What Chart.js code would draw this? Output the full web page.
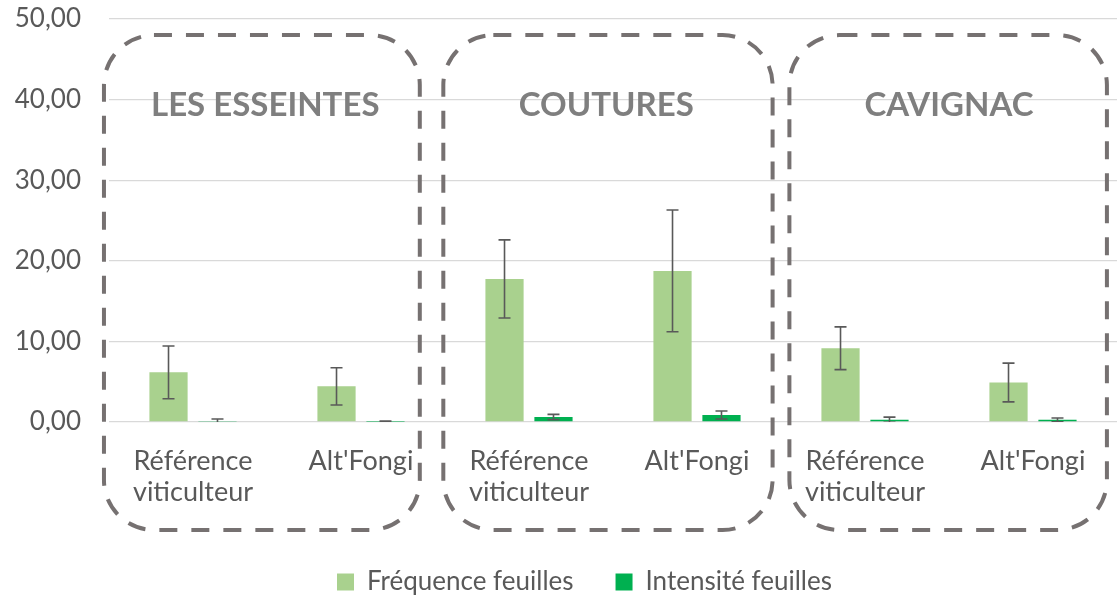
<!DOCTYPE html>
<html>
<head>
<meta charset="utf-8">
<script src="https://cdn.jsdelivr.net/npm/chart.js@4/dist/chart.umd.min.js"></script>
<style>
  html, body { margin: 0; padding: 0; background: #ffffff; }
  #wrap { width: 1118px; height: 596px; }
</style>
</head>
<body>
<div id="wrap"><canvas id="c" width="1118" height="596"></canvas></div>
<script>
// ---- data ----
const categories = [
  ["Référence", "viticulteur"], "Alt'Fongi",
  ["Référence", "viticulteur"], "Alt'Fongi",
  ["Référence", "viticulteur"], "Alt'Fongi"
];
const seriesNames = ["Fréquence feuilles", "Intensité feuilles"];
const frequence    = [6.16, 4.42, 17.75, 18.75, 9.15, 4.90];
const frequenceErr = [3.27, 2.32, 4.85, 7.55, 2.65, 2.40];
const intensite    = [0.05, 0.03, 0.62, 0.87, 0.28, 0.27];
const intensiteErr = [0.32, 0.08, 0.33, 0.50, 0.32, 0.23];
const yTicks = [0, 10, 20, 30, 40, 50];

// group annotations (in axis units: category index / value)
const groupNames    = ["LES ESSEINTES", "COUTURES", "CAVIGNAC"];
const groupLabelX   = [0.43, 2.46, 4.50];
const groupLabelY   = 39.3;
const groupBoxLeft  = [-0.53, 1.49, 3.55];
const groupBoxRight = [1.35, 3.45, 5.44];
const groupBoxTop   = 48.0;
const groupBoxBottom= -13.4;

const FONT = "Lato, 'Open Sans', sans-serif";
const TEXT = "#595959";

const errorBarPlugin = {
  id: 'errorBars',
  afterDatasetsDraw(chart) {
    const ctx = chart.ctx, y = chart.scales.y, a = chart.chartArea;
    const errs = [frequenceErr, intensiteErr];
    ctx.save();
    ctx.beginPath();
    ctx.rect(a.left, a.top - 2, a.right - a.left, a.bottom - a.top + 2);
    ctx.clip();
    ctx.strokeStyle = "#595959";
    ctx.lineWidth = 1.6;
    chart.data.datasets.forEach((ds, di) => {
      const meta = chart.getDatasetMeta(di);
      meta.data.forEach((bar, i) => {
        const v = ds.data[i], e = errs[di][i];
        const yt = y.getPixelForValue(v + e), yb = y.getPixelForValue(v - e);
        const x = bar.x, cap = 6;
        ctx.beginPath();
        ctx.moveTo(x, yt); ctx.lineTo(x, yb);
        ctx.moveTo(x - cap, yt); ctx.lineTo(x + cap, yt);
        ctx.moveTo(x - cap, yb); ctx.lineTo(x + cap, yb);
        ctx.stroke();
      });
    });
    ctx.restore();
  }
};

// shift the legend a little to the right, as in the original chart
const legendShiftPlugin = {
  id: 'legendShift',
  afterLayout(chart) {
    if (chart.legend) { chart.legend.left += 26; chart.legend.right += 26; }
  }
};

function roundRectPath(ctx, x0, y0, x1, y1, r) {
  ctx.beginPath();
  ctx.moveTo(x0 + r, y0);
  ctx.lineTo(x1 - r, y0);
  ctx.arcTo(x1, y0, x1, y0 + r, r);
  ctx.lineTo(x1, y1 - r);
  ctx.arcTo(x1, y1, x1 - r, y1, r);
  ctx.lineTo(x0 + r, y1);
  ctx.arcTo(x0, y1, x0, y1 - r, r);
  ctx.lineTo(x0, y0 + r);
  ctx.arcTo(x0, y0, x0 + r, y0, r);
  ctx.closePath();
}

const groupPlugin = {
  id: 'groups',
  afterDraw(chart) {
    const ctx = chart.ctx, xs = chart.scales.x, ys = chart.scales.y;
    ctx.save();
    ctx.strokeStyle = "#767171";
    ctx.lineWidth = 4;
    ctx.setLineDash([18, 14]);
    for (let g = 0; g < groupNames.length; g++) {
      const x0 = xs.getPixelForValue(groupBoxLeft[g]);
      const x1 = xs.getPixelForValue(groupBoxRight[g]);
      const y0 = ys.getPixelForValue(groupBoxTop);
      const y1 = ys.getPixelForValue(groupBoxBottom);
      roundRectPath(ctx, x0, y0, x1, y1, 50);
      ctx.stroke();
    }
    ctx.setLineDash([]);
    ctx.fillStyle = "#7f7f7f";
    ctx.font = "bold 33px " + FONT;
    ctx.textAlign = "center";
    ctx.textBaseline = "middle";
    for (let g = 0; g < groupNames.length; g++) {
      ctx.fillText(groupNames[g], xs.getPixelForValue(groupLabelX[g]), ys.getPixelForValue(groupLabelY));
    }
    ctx.restore();
  }
};

new Chart(document.getElementById('c'), {
  type: 'bar',
  data: {
    labels: categories,
    datasets: [
      { label: seriesNames[0], data: frequence, backgroundColor: "#A9D18E",
        categoryPercentage: 0.583, barPercentage: 0.78 },
      { label: seriesNames[1], data: intensite, backgroundColor: "#00B050",
        categoryPercentage: 0.583, barPercentage: 0.78 }
    ]
  },
  options: {
    responsive: false,
    animation: false,
    layout: { padding: { top: 19, right: 1, left: 0, bottom: -9 } },
    plugins: {
      legend: {
        position: 'bottom',
        labels: {
          boxWidth: 17, boxHeight: 17, padding: 42,
          color: TEXT, font: { family: FONT, size: 26 }
        }
      },
      tooltip: { enabled: false }
    },
    scales: {
      x: {
        grid: { display: false },
        border: { display: false },
        ticks: { color: TEXT, font: { family: FONT, size: 27, lineHeight: 1.15 }, padding: 16,
                 maxRotation: 0, autoSkip: false },
        afterFit(axis) { axis.height = 105; axis.paddingLeft = 0; axis.paddingRight = 0; }
      },
      y: {
        min: 0, max: 50,
        afterBuildTicks(axis) { axis.ticks = yTicks.map(v => ({ value: v })); },
        grid: { color: "#D9D9D9", lineWidth: 1.3, drawTicks: false },
        border: { display: false },
        ticks: { color: TEXT, font: { family: FONT, size: 26 }, padding: 28,
                 callback: v => v.toFixed(2).replace('.', ',') },
        afterFit(axis) { axis.width = 109; axis.paddingTop = 0; axis.paddingBottom = 0; }
      }
    }
  },
  plugins: [errorBarPlugin, legendShiftPlugin, groupPlugin]
});
</script>
</body>
</html>
